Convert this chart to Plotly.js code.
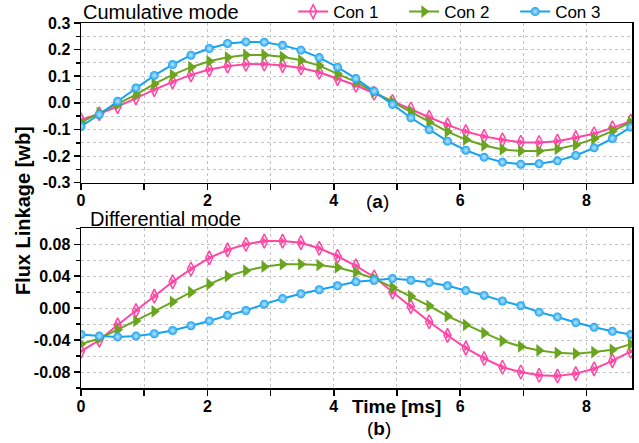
<!DOCTYPE html>
<html>
<head>
<meta charset="utf-8">
<script src="https://cdn.plot.ly/plotly-3.0.1.min.js"></script>
<style>html,body{margin:0;padding:0;background:#fff}#chart{width:639px;height:443px}</style>
</head>
<body>
<div id="chart"></div>
<script>
// time points [ms]
var time = [0, 0.29, 0.58, 0.87, 1.16, 1.45, 1.74, 2.03, 2.32, 2.61, 2.90, 3.19, 3.48, 3.77, 4.06, 4.35,
            4.64, 4.93, 5.22, 5.51, 5.80, 6.09, 6.38, 6.67, 6.96, 7.25, 7.54, 7.83, 8.12, 8.41, 8.70];

// (a) Cumulative mode
var cumCon1 = [-0.064, -0.041, -0.014, 0.019, 0.050, 0.079, 0.105, 0.125, 0.138, 0.145, 0.146, 0.140, 0.131, 0.115, 0.091, 0.066,
               0.036, 0.005, -0.023, -0.054, -0.083, -0.108, -0.126, -0.139, -0.148, -0.149, -0.144, -0.131, -0.116, -0.094, -0.069];
var cumCon2 = [-0.073, -0.039, -0.006, 0.031, 0.071, 0.105, 0.134, 0.156, 0.171, 0.180, 0.180, 0.173, 0.160, 0.140, 0.109, 0.079,
               0.040, 0.003, -0.033, -0.073, -0.108, -0.138, -0.160, -0.175, -0.181, -0.181, -0.173, -0.158, -0.135, -0.106, -0.073];
var cumCon3 = [-0.089, -0.044, 0.006, 0.056, 0.103, 0.144, 0.179, 0.204, 0.223, 0.229, 0.228, 0.216, 0.198, 0.170, 0.134, 0.091,
               0.044, -0.006, -0.056, -0.101, -0.144, -0.178, -0.204, -0.223, -0.231, -0.229, -0.218, -0.198, -0.169, -0.134, -0.091];

// (b) Differential mode
var difCon1 = [-0.054, -0.040, -0.021, -0.003, 0.015, 0.033, 0.049, 0.063, 0.073, 0.080, 0.084, 0.084, 0.082, 0.075, 0.065, 0.053,
               0.039, 0.020, 0.002, -0.017, -0.034, -0.050, -0.063, -0.074, -0.080, -0.084, -0.085, -0.082, -0.076, -0.066, -0.054];
var difCon2 = [-0.045, -0.038, -0.027, -0.016, -0.004, 0.008, 0.020, 0.030, 0.040, 0.047, 0.052, 0.055, 0.055, 0.054, 0.051, 0.045,
               0.037, 0.026, 0.015, 0.003, -0.010, -0.021, -0.031, -0.041, -0.048, -0.053, -0.056, -0.057, -0.055, -0.052, -0.045];
var difCon3 = [-0.033, -0.035, -0.036, -0.035, -0.032, -0.028, -0.022, -0.016, -0.009, -0.003, 0.005, 0.012, 0.018, 0.023, 0.028, 0.033,
               0.035, 0.037, 0.035, 0.032, 0.028, 0.022, 0.016, 0.009, 0.003, -0.005, -0.011, -0.018, -0.024, -0.029, -0.033];

var seriesNames = ["Con 1", "Con 2", "Con 3"];
var xTickVals = [0, 2, 4, 6, 8];
var xTickText = ["0", "2", "4", "6", "8"];
var yTopVals = [-0.3, -0.2, -0.1, 0.0, 0.1, 0.2, 0.3];
var yTopText = ["-0.3", "-0.2", "-0.1", "0.0", "0.1", "0.2", "0.3"];
var yBotVals = [-0.08, -0.04, 0.0, 0.04, 0.08];
var yBotText = ["-0.08", "-0.04", "0.00", "0.04", "0.08"];

var PINK = "#ff46a5", GREEN = "#6ba520", BLUE = "#16a2ef";
var FONT = "Arial, 'Liberation Sans', sans-serif";

function pinkTraces(y, xa, ya, legend) {
  return [
    {x: time, y: y, xaxis: xa, yaxis: ya, type: "scatter", mode: "lines+markers", name: seriesNames[0],
     showlegend: legend, legendgroup: "c1",
     line: {color: PINK, width: 2},
     marker: {symbol: "diamond-tall-open", size: 10, color: PINK, line: {width: 1.5, color: PINK}}},
    {x: time, y: y, xaxis: xa, yaxis: ya, type: "scatter", mode: "markers", name: seriesNames[0],
     showlegend: false, legendgroup: "c1", hoverinfo: "skip",
     marker: {symbol: "triangle-right", size: 6, color: PINK}}
  ];
}
function greenTrace(y, xa, ya, legend) {
  return {x: time, y: y, xaxis: xa, yaxis: ya, type: "scatter", mode: "lines+markers", name: seriesNames[1],
          showlegend: legend, legendgroup: "c2",
          line: {color: GREEN, width: 2},
          marker: {symbol: "triangle-right", size: 11, color: GREEN}};
}
function blueTrace(y, xa, ya, legend) {
  return {x: time, y: y, xaxis: xa, yaxis: ya, type: "scatter", mode: "lines+markers", name: seriesNames[2],
          showlegend: legend, legendgroup: "c3",
          line: {color: BLUE, width: 2},
          marker: {symbol: "circle", size: 9, color: BLUE, gradient: {type: "radial", color: "#bfe6ff"}}};
}

var data = [].concat(
  pinkTraces(cumCon1, "x", "y", true),
  [greenTrace(cumCon2, "x", "y", true), blueTrace(cumCon3, "x", "y", true)],
  pinkTraces(difCon1, "x2", "y2", false),
  [greenTrace(difCon2, "x2", "y2", false), blueTrace(difCon3, "x2", "y2", false)]
);

var tickFont = {family: FONT, size: 16, color: "#000", weight: "bold"};
function xAxis(anchor) {
  return {
    anchor: anchor, domain: [0, 1], range: [0, 8.72],
    tickmode: "array", tickvals: xTickVals, ticktext: xTickText,
    ticks: "outside", ticklen: 6, tickwidth: 1.5, tickcolor: "#000",
    ticklabelstandoff: -3,
    showgrid: false, zeroline: false,
    showline: true, linecolor: "#000", linewidth: 1.5, mirror: true,
    tickfont: tickFont,
    minor: {dtick: 1, tick0: 0, ticks: "outside", ticklen: 6, tickwidth: 1.5, tickcolor: "#000",
            showgrid: true, gridcolor: "#c4c4c4", griddash: "dot", gridwidth: 1}
  };
}
function yAxis(anchor, dom, range, vals, text, minorStep) {
  return {
    anchor: anchor, domain: dom, range: range,
    tickmode: "array", tickvals: vals, ticktext: text,
    ticks: "outside", ticklen: 6, tickwidth: 1.5, tickcolor: "#000",
    showgrid: false, zeroline: false,
    showline: true, linecolor: "#000", linewidth: 1.5, mirror: true,
    tickfont: tickFont,
    minor: {dtick: minorStep, tick0: 0, ticks: "outside", ticklen: 4, tickwidth: 1.5, tickcolor: "#000",
            showgrid: true, gridcolor: "#c4c4c4", griddash: "dot", gridwidth: 1}
  };
}

var layout = {
  width: 639, height: 443,
  margin: {l: 81, r: 7, t: 23, b: 55, autoexpand: false},
  paper_bgcolor: "#fff", plot_bgcolor: "#fff",
  showlegend: true,
  legend: {orientation: "h", x: 0.385, xanchor: "left", y: 1.03, yanchor: "middle",
           font: {family: FONT, size: 17, color: "#000"}, bgcolor: "rgba(0,0,0,0)",
           itemclick: false, tracegroupgap: 0, entrywidth: 66, entrywidthmode: "pixels"},
  xaxis: xAxis("y"),
  yaxis: yAxis("x", [0.5625, 1], [-0.3, 0.3], yTopVals, yTopText, 0.05),
  xaxis2: xAxis("y2"),
  yaxis2: yAxis("x2", [0, 0.4375], [-0.1, 0.1], yBotVals, yBotText, 0.02),
  annotations: [
    {text: "Cumulative mode", xref: "paper", yref: "paper", x: 0, y: 1.030, xanchor: "left", yanchor: "middle",
     showarrow: false, font: {family: FONT, size: 20, color: "#000"}},
    {text: "Differential mode", xref: "paper", yref: "paper", x: 0.012, y: 0.463, xanchor: "left", yanchor: "middle",
     showarrow: false, font: {family: FONT, size: 20, color: "#000"}},
    {text: "(<b>a</b>)", xref: "paper", yref: "paper", x: 0.539, y: 0.510, xanchor: "center", yanchor: "middle",
     showarrow: false, font: {family: FONT, size: 19, color: "#000"}},
    {text: "(<b>b</b>)", xref: "paper", yref: "paper", x: 0.541, y: -0.11, xanchor: "center", yanchor: "middle",
     showarrow: false, font: {family: FONT, size: 19, color: "#000"}},
    {text: "<b>Time [ms]</b>", xref: "paper", yref: "paper", x: 0.5717, y: -0.05, xanchor: "center", yanchor: "middle",
     showarrow: false, font: {family: FONT, size: 19, color: "#000"}},
    {text: "<b>Flux Linkage [wb]</b>", xref: "paper", yref: "paper", x: -0.105, y: 0.485, xanchor: "center", yanchor: "middle",
     textangle: -90, showarrow: false, font: {family: FONT, size: 20, color: "#000"}}
  ]
};

Plotly.newPlot("chart", data, layout, {displayModeBar: false, staticPlot: true});
</script>
</body>
</html>
